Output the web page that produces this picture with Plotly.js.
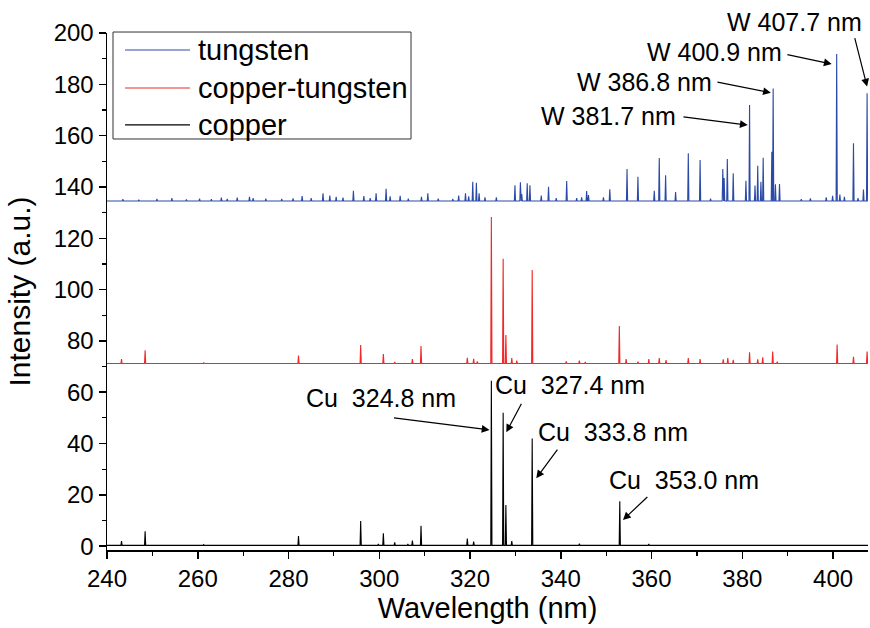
<!DOCTYPE html>
<html>
<head>
<meta charset="utf-8">
<script src="https://cdn.plot.ly/plotly-3.0.1.min.js"></script>
<style>html,body{margin:0;padding:0;background:#fff;}#chart{width:870px;height:628px;}</style>
</head>
<body>
<div id="chart"></div>
<script>
// ---- data (wavelength in nm, intensity in a.u.) ----
const xRangeMin = 240, xRangeMax = 407.7;
const yRangeMin = -1.5, yRangeMax = 200;

const seriesNames = ["tungsten", "copper-tungsten", "copper"];
const seriesColors = ["#2b4aa8", "#f02828", "#000000"];

// tungsten spectrum (offset baseline)
const tungstenBase = 134.5;
const tungstenPeakX = [243.5, 247.0, 251.0, 254.3, 257.5, 260.4, 263.0, 265.2, 266.5, 268.7, 271.4, 272.2, 275.0, 278.5, 281.0, 283.0, 285.0, 287.6, 289.1, 290.5, 292.0, 294.3, 296.6, 298.0, 299.3, 301.5, 302.4, 304.6, 306.4, 309.3, 310.7, 313.0, 316.2, 317.5, 319.0, 319.7, 320.6, 321.4, 322.0, 323.3, 325.8, 329.9, 331.1, 331.4, 332.6, 333.2, 335.7, 337.3, 339.0, 341.3, 343.5, 344.6, 345.7, 346.1, 349.4, 350.8, 354.6, 357.0, 360.6, 361.7, 363.1, 365.3, 368.1, 370.7, 373.0, 375.7, 376.0, 376.7, 378.0, 380.8, 381.6, 382.8, 383.4, 384.1, 384.6, 386.5, 386.8, 387.3, 388.2, 393.0, 395.0, 398.5, 399.9, 400.8, 401.5, 402.5, 404.5, 405.5, 406.7, 407.5];
const tungstenPeakY = [135.2, 135.0, 135.3, 135.6, 135.1, 135.4, 135.2, 135.8, 135.3, 135.9, 136.2, 135.6, 135.4, 135.3, 135.5, 136.4, 135.6, 137.5, 136.6, 136.2, 135.8, 138.5, 136.4, 135.7, 137.5, 139.3, 136.3, 136.5, 135.4, 136.2, 137.5, 135.4, 135.3, 136.6, 137.5, 136.3, 142.0, 141.6, 137.5, 136.0, 136.0, 140.7, 141.8, 137.2, 141.4, 140.7, 136.6, 140.1, 135.6, 142.3, 135.6, 136.0, 138.4, 136.8, 136.0, 139.1, 147.0, 144.0, 138.5, 151.3, 144.6, 138.0, 153.1, 150.5, 135.4, 147.0, 143.5, 150.9, 145.3, 142.4, 171.9, 140.6, 148.3, 142.0, 151.4, 153.7, 178.4, 141.0, 141.1, 135.2, 135.5, 136.0, 136.5, 191.8, 137.0, 136.2, 157.0, 135.6, 139.0, 176.5];

// copper-tungsten spectrum (offset baseline)
const cuwBase = 71.2;
const cuwPeakX = [243.2, 248.4, 261.3, 282.2, 295.9, 300.9, 303.4, 307.3, 309.2, 319.4, 320.8, 321.6, 324.7, 327.3, 327.9, 329.2, 330.3, 333.7, 341.2, 344.1, 345.4, 352.9, 354.4, 357.0, 359.4, 361.7, 363.2, 368.1, 370.7, 375.8, 376.8, 378.0, 381.6, 383.4, 384.5, 386.7, 387.7, 400.9, 404.5, 407.5];
const cuwPeakY = [72.9, 76.3, 71.6, 74.3, 78.4, 74.9, 71.8, 72.9, 78.0, 73.4, 73.0, 72.0, 128.3, 112.0, 82.3, 73.3, 72.3, 107.6, 72.0, 72.3, 71.8, 85.8, 72.9, 71.9, 72.9, 73.3, 72.5, 73.3, 72.9, 72.8, 73.3, 72.6, 75.6, 72.8, 73.6, 75.9, 71.9, 78.6, 73.8, 75.9];

// copper spectrum
const cuBase = 0.3;
const cuPeakX = [243.2, 248.4, 261.3, 282.2, 295.9, 299.8, 300.9, 303.4, 306.3, 307.3, 309.2, 319.4, 320.8, 324.7, 327.3, 327.9, 329.2, 333.7, 344.1, 353.0, 359.4];
const cuPeakY = [2.0, 5.8, 0.6, 3.9, 9.8, 0.8, 5.0, 1.5, 0.8, 2.2, 7.9, 3.0, 1.8, 64.5, 52.0, 16.0, 2.0, 42.0, 1.0, 17.5, 0.8];

// line labels (text centre and arrow ends, in data units)
const labelText  = ["W 407.7 nm", "W 400.9 nm", "W 386.8 nm", "W 381.7 nm", "Cu&nbsp; 324.8 nm", "Cu&nbsp; 327.4 nm", "Cu&nbsp; 333.8 nm", "Cu&nbsp; 353.0 nm"];
const labelX     = [391.4, 373.9, 358.4, 350.5, 300.4, 342.1, 351.6, 367.2];
const labelY     = [204.3, 192.6, 181.0, 167.6, 57.8, 62.8, 44.5, 25.8];
const arrowTailX = [404.7, 389.6, 374.2, 366.7, 302.9, 331.5, 339.5, 359.4];
const arrowTailY = [198.6, 191.7, 181.0, 167.4, 50.1, 56.1, 38.2, 19.7];
const arrowHeadX = [407.5, 399.7, 386.3, 381.2, 324.3, 328.0, 334.6, 353.7];
const arrowHeadY = [179.1, 187.9, 176.7, 164.1, 45.3, 44.4, 26.5, 10.2];

// ---- build line spectra (narrow emission lines on a flat baseline) ----
function spectrum(px, py, base) {
  const hw = 0.13;
  const idx = px.map((_, i) => i).sort((a, b) => px[a] - px[b]);
  const xs = [xRangeMin], ys = [base];
  idx.forEach(i => {
    xs.push(px[i] - hw, px[i], px[i] + hw);
    ys.push(base, py[i], base);
  });
  xs.push(xRangeMax + 1); ys.push(base);
  return {x: xs, y: ys};
}
const spectra = [
  spectrum(tungstenPeakX, tungstenPeakY, tungstenBase),
  spectrum(cuwPeakX, cuwPeakY, cuwBase),
  spectrum(cuPeakX, cuPeakY, cuBase)
];

const FONT = "Liberation Sans, Arial, sans-serif";
const traces = spectra.map((s, i) => ({
  x: s.x, y: s.y, type: "scatter", mode: "lines", name: seriesNames[i],
  line: {color: seriesColors[i], width: 1.1}, showlegend: false
}));

const toPaperY = v => (v - yRangeMin) / (yRangeMax - yRangeMin);

const annotations = [];
const shapes = [];
for (let i = 0; i < labelText.length; i++) {
  const outside = labelY[i] > yRangeMax;
  annotations.push({x: labelX[i], y: outside ? toPaperY(labelY[i]) : labelY[i], xref: "x", yref: outside ? "paper" : "y",
    text: labelText[i], showarrow: false,
    font: {family: FONT, size: 25, color: "#000"}, xanchor: "center", yanchor: "middle"});
  annotations.push({x: arrowHeadX[i], y: arrowHeadY[i], ax: arrowTailX[i], ay: arrowTailY[i],
    xref: "x", yref: "y", axref: "x", ayref: "y", text: "", showarrow: true,
    arrowhead: 2, arrowsize: 1.3, arrowwidth: 1.2, arrowcolor: "#000"});
}

// legend box (drawn in paper coordinates, top-left of plot)
const legX0 = 0.0079, legX1 = 0.3995, legY0 = 0.795, legY1 = 1.0019;
const legLineX0 = 0.0237, legLineX1 = 0.1091, legTextX = 0.1170;
const legRowY = [0.9671, 0.8936, 0.8221];
shapes.push({type: "rect", xref: "paper", yref: "paper", x0: legX0, x1: legX1, y0: legY0, y1: legY1,
  line: {color: "#333", width: 1}, fillcolor: "#fff", layer: "above"});
seriesNames.forEach((name, i) => {
  shapes.push({type: "line", xref: "paper", yref: "paper", x0: legLineX0, x1: legLineX1, y0: legRowY[i], y1: legRowY[i],
    line: {color: seriesColors[i], width: 1.2}, layer: "above"});
  annotations.push({x: legTextX, y: legRowY[i], xref: "paper", yref: "paper", text: name, showarrow: false,
    xanchor: "left", yanchor: "middle", font: {family: FONT, size: 29, color: "#000"}});
});

const layout = {
  width: 870, height: 628,
  margin: {l: 107, r: 2, t: 33, b: 78},
  paper_bgcolor: "#fff", plot_bgcolor: "#fff",
  showlegend: false,
  font: {family: FONT, color: "#000"},
  xaxis: {range: [xRangeMin, xRangeMax], automargin: false, showgrid: false, zeroline: false,
    showline: true, linecolor: "#000", linewidth: 1.5, ticks: "outside", ticklen: 7, tickwidth: 1.5, tickcolor: "#000",
    tick0: 240, dtick: 20, tickfont: {family: FONT, size: 24, color: "#000"},
    minor: {dtick: 10, ticks: "outside", ticklen: 4, tickwidth: 1.2, tickcolor: "#000"},
    title: {text: "Wavelength (nm)", font: {family: FONT, size: 29, color: "#000"}, standoff: 6}},
  yaxis: {range: [yRangeMin, yRangeMax], automargin: false, showgrid: false, zeroline: false,
    showline: true, linecolor: "#000", linewidth: 1.5, ticks: "outside", ticklen: 7, tickwidth: 1.5, tickcolor: "#000",
    tick0: 0, dtick: 20, tickfont: {family: FONT, size: 24, color: "#000"},
    minor: {dtick: 10, ticks: "outside", ticklen: 4, tickwidth: 1.2, tickcolor: "#000"},
    title: {text: "Intensity (a.u.)", font: {family: FONT, size: 30, color: "#000"}, standoff: 14}},
  annotations: annotations,
  shapes: shapes
};

Plotly.newPlot("chart", traces, layout, {displayModeBar: false, staticPlot: true});
</script>
</body>
</html>
